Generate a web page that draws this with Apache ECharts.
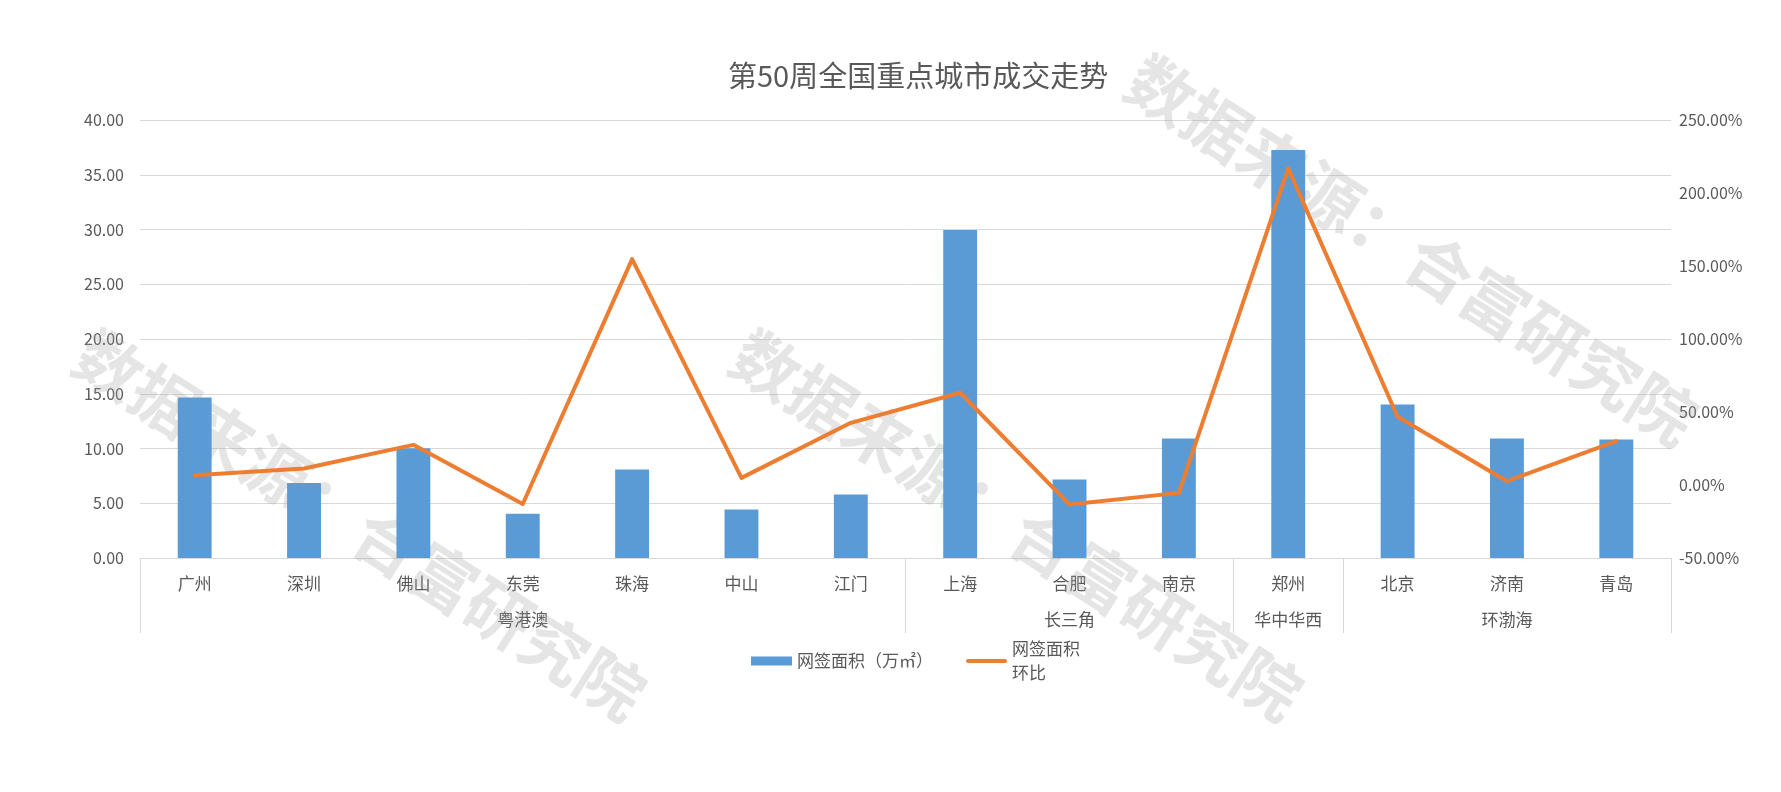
<!DOCTYPE html>
<html>
<head>
<meta charset="utf-8">
<script src="https://cdn.jsdelivr.net/npm/echarts@6/dist/echarts.min.js"></script>
<style>
html,body{margin:0;padding:0;background:#fff;}
#chart{width:1781px;height:792px;}
</style>
</head>
<body>
<div id="chart"></div>
<script>
var cities = ['广州','深圳','佛山','东莞','珠海','中山','江门','上海','合肥','南京','郑州','北京','济南','青岛'];
var regions = ['粤港澳','长三角','华中华西','环渤海'];
var regionBounds = [0, 7, 10, 11, 14];
var areaValues = [14.65, 6.86, 10.02, 4.05, 8.08, 4.42, 5.79, 29.95, 7.16, 10.91, 37.26, 14.02, 10.91, 10.82];
var ratioValues = [6.7, 11.3, 27.5, -13.0, 154.7, 4.9, 42.6, 63.2, -13.4, -5.4, 216.9, 46.7, 2.6, 30.0];
var titleText = '第50周全国重点城市成交走势';
var barName = '网签面积（万㎡）';
var lineName = '网签面积\n环比';
var watermarkText = '数据来源：合富研究院';

var regionCenters = [];
for (var i = 0; i < regions.length; i++) {
  regionCenters.push((regionBounds[i] + regionBounds[i + 1]) / 2);
}

var font = '"Noto Sans CJK SC", "Noto Sans", sans-serif';
var txt = '#595959';
var lineGrey = '#D9D9D9';

function wm(x, y) {
  return {
    type: 'text', x: x, y: y, rotation: -32.5 * Math.PI / 180, z: 1, silent: true,
    style: {
      text: watermarkText, fontSize: 66, fontWeight: 'bold', fontFamily: font,
      fill: 'rgba(160,160,160,0.28)', align: 'center', verticalAlign: 'middle'
    }
  };
}

var chart = echarts.init(document.getElementById('chart'), null, {renderer: 'canvas'});
chart.setOption({
  backgroundColor: '#fff',
  animation: false,
  textStyle: {fontFamily: font},
  title: {
    text: titleText, left: 728, top: 61, padding: 0,
    textStyle: {fontSize: 29, fontWeight: 'normal', color: txt, fontFamily: font}
  },
  graphic: [wm(360, 525), wm(1017, 525), wm(1412, 250)],
  legend: {
    left: 751, top: 625, padding: 0, itemGap: 33, itemWidth: 41, itemHeight: 9,
    textStyle: {fontSize: 17, color: txt, fontFamily: font, lineHeight: 24},
    data: [
      {name: barName, icon: 'rect'},
      {name: lineName, icon: 'path://M2,0L39,0A2,2,0,0,1,39,4L2,4A2,2,0,0,1,2,0Z',
       textStyle: {padding: [24, 0, 0, 0], lineHeight: 24}}
    ]
  },
  grid: {left: 140, right: 110, top: 120, bottom: 234, containLabel: false},
  xAxis: [
    {
      type: 'category', data: cities, boundaryGap: true,
      axisLine: {onZero: false, lineStyle: {color: lineGrey, width: 1}},
      axisTick: {show: false},
      axisLabel: {color: txt, fontSize: 17, margin: 17, fontFamily: font, interval: 0},
      splitLine: {show: false}
    },
    {
      type: 'value', min: 0, max: cities.length, position: 'bottom',
      axisLine: {show: false, onZero: false},
      axisTick: {show: true, customValues: regionBounds, length: 75, lineStyle: {color: lineGrey, width: 1}},
      axisLabel: {
        show: true, customValues: regionCenters, margin: 53, color: txt, fontSize: 17, fontFamily: font,
        formatter: function (v) {
          var idx = regionCenters.indexOf(v);
          return idx >= 0 ? regions[idx] : '';
        }
      },
      splitLine: {show: false}
    }
  ],
  yAxis: [
    {
      type: 'value', min: 0, max: 40, interval: 5,
      axisLine: {show: false}, axisTick: {show: false},
      axisLabel: {color: txt, fontSize: 16, margin: 16, fontFamily: font, formatter: function (v) { return v.toFixed(2); }},
      splitLine: {lineStyle: {color: lineGrey, width: 1}}
    },
    {
      type: 'value', min: -50, max: 250, interval: 50, position: 'right',
      axisLine: {show: false}, axisTick: {show: false},
      axisLabel: {color: txt, fontSize: 16, margin: 8, fontFamily: font, formatter: function (v) { return v.toFixed(2) + '%'; }},
      splitLine: {show: false}
    }
  ],
  series: [
    {
      name: barName, type: 'bar', data: areaValues, xAxisIndex: 0, yAxisIndex: 0,
      barWidth: '31%', itemStyle: {color: '#5B9BD5'}, z: 2
    },
    {
      name: lineName, type: 'line', data: ratioValues, xAxisIndex: 0, yAxisIndex: 1,
      symbol: 'none', showSymbol: false, z: 3,
      lineStyle: {color: '#ED7D31', width: 4, cap: 'round', join: 'round'},
      itemStyle: {color: '#ED7D31'}
    }
  ]
});
</script>
</body>
</html>
